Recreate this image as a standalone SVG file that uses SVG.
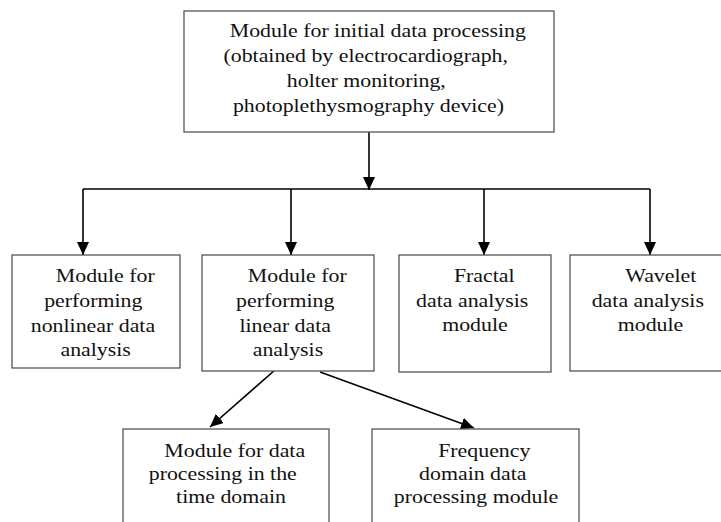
<svg xmlns="http://www.w3.org/2000/svg" width="721" height="522" viewBox="0 0 721 522">
<style>
.box{fill:#fff;stroke:#555;stroke-width:1.3}
.lbl{font-family:"Times New Roman","Liberation Serif","DejaVu Serif",serif;font-size:19px;fill:#111;text-anchor:middle}
.con{fill:none;stroke:#000;stroke-width:1.6}
</style>
<defs>
<marker id="ah" markerUnits="userSpaceOnUse" markerWidth="13" markerHeight="12" refX="13" refY="6" orient="auto">
<path d="M0,0 L13,6 L0,12 z" fill="#000"/>
</marker>
</defs>
<rect width="721" height="522" fill="#fff"/>
<g id="connectors">
<line class="con" x1="369" y1="132" x2="369" y2="190" marker-end="url(#ah)"/>
<line class="con" x1="83" y1="189" x2="650" y2="189"/>
<line class="con" x1="83" y1="189" x2="83" y2="255" marker-end="url(#ah)"/>
<line class="con" x1="291" y1="189" x2="291" y2="255" marker-end="url(#ah)"/>
<line class="con" x1="484" y1="189" x2="484" y2="255" marker-end="url(#ah)"/>
<line class="con" x1="650" y1="189" x2="650" y2="255" marker-end="url(#ah)"/>
<line class="con" x1="275" y1="370" x2="210" y2="427" marker-end="url(#ah)"/>
<line class="con" x1="320" y1="372" x2="474" y2="428" marker-end="url(#ah)"/>
</g>
<g id="initial">
<rect class="box" x="184" y="11" width="370" height="121"/>
<text class="lbl" font-family="Liberation Serif" transform="scale(1.15 1)">
<tspan x="330.9" y="37">Module for initial data processing</tspan>
<tspan x="320.4" y="62">(obtained by electrocardiograph,</tspan>
<tspan x="320.9" y="87">holter monitoring,</tspan>
<tspan x="320.4" y="112">photoplethysmography device)</tspan>
</text>
</g>
<g id="nonlinear">
<rect class="box" x="12" y="255" width="168" height="113"/>
<text class="lbl" font-family="Liberation Serif" transform="scale(1.15 1)">
<tspan x="93.9" y="282">Module for</tspan>
<tspan x="83.5" y="307">performing</tspan>
<tspan x="83.2" y="332">nonlinear data</tspan>
<tspan x="83.2" y="356">analysis</tspan>
</text>
</g>
<g id="linear">
<rect class="box" x="202" y="255" width="172" height="116"/>
<text class="lbl" font-family="Liberation Serif" transform="scale(1.15 1)">
<tspan x="260.9" y="282">Module for</tspan>
<tspan x="250.4" y="307">performing</tspan>
<tspan x="250.4" y="332">linear data</tspan>
<tspan x="250.4" y="356">analysis</tspan>
</text>
</g>
<g id="fractal">
<rect class="box" x="399" y="255" width="152" height="117"/>
<text class="lbl" font-family="Liberation Serif" transform="scale(1.15 1)">
<tspan x="423.5" y="282">Fractal</tspan>
<tspan x="413" y="307">data analysis</tspan>
<tspan x="413" y="331">module</tspan>
</text>
</g>
<g id="wavelet">
<rect class="box" x="570" y="255" width="161" height="116"/>
<text class="lbl" font-family="Liberation Serif" transform="scale(1.15 1)">
<tspan x="577" y="282">Wavelet</tspan>
<tspan x="565.7" y="307">data analysis</tspan>
<tspan x="565.7" y="331">module</tspan>
</text>
</g>
<g id="time">
<rect class="box" x="123" y="429" width="206" height="100"/>
<text class="lbl" font-family="Liberation Serif" transform="scale(1.15 1)">
<tspan x="206.5" y="457">Module for data</tspan>
<tspan x="196.1" y="480">processing in the</tspan>
<tspan x="200.9" y="503">time domain</tspan>
</text>
</g>
<g id="frequency">
<rect class="box" x="372" y="429" width="207" height="100"/>
<text class="lbl" font-family="Liberation Serif" transform="scale(1.15 1)">
<tspan x="423.5" y="457">Frequency</tspan>
<tspan x="413.5" y="480">domain data</tspan>
<tspan x="413.9" y="503">processing module</tspan>
</text>
</g>
</svg>
